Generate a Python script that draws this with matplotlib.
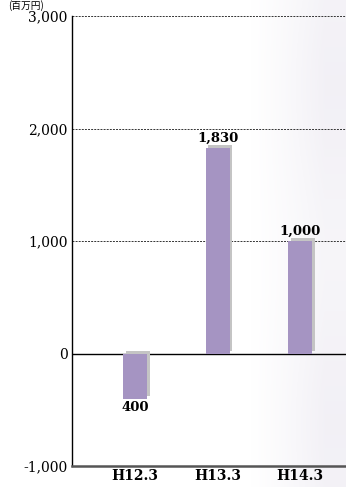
import numpy as np
import matplotlib
matplotlib.use("Agg")
import matplotlib.pyplot as plt
import matplotlib.patheffects as pe

# Data
periods = ["H12.3", "H13.3", "H14.3"]
values = [-400, 1830, 1000]
value_labels = ["400", "1,830", "1,000"]
yticks = [-1000, 0, 1000, 2000, 3000]
ytick_labels = ["-1,000", "0", "1,000", "2,000", "3,000"]
unit_label = "(百万円)"

W, H = 346, 487
fig = plt.figure(figsize=(W / 100, H / 100), dpi=100)
fig.patch.set_facecolor("white")

# faint lavender wash on the right-hand side
bg = fig.add_axes([0, 0, 1, 1], zorder=-10)
bg.set_axis_off()
xs = np.linspace(0, 1, 346)
ramp = np.clip((xs - 0.72) / 0.22, 0, 1) ** 1.2
ys = np.linspace(0, 1, 487)
rows = 0.85 + 0.15 * np.sin(ys * 9.0)[:, None]
alpha = ramp[None, :] * rows * 0.35
img = np.zeros((487, 346, 4))
img[..., 0] = 0.86
img[..., 1] = 0.84
img[..., 2] = 0.90
img[..., 3] = alpha
bg.imshow(img, extent=[0, 1, 0, 1], aspect="auto")
bg.set_xlim(0, 1)
bg.set_ylim(0, 1)

left, right = 72 / W, 1.0
bottom, top = 1 - 466 / H, 1 - 16 / H
ax = fig.add_axes([left, bottom, right - left, top - bottom])
ax.patch.set_alpha(0)

x = np.arange(len(periods))
bars = ax.bar(x, values, width=0.29, color="#a594c2", zorder=3)
for b in bars:
    b.set_path_effects([pe.SimplePatchShadow(offset=(2.0, 2.0),
                                             shadow_rgbFace="#c4c4c4",
                                             alpha=1.0),
                        pe.Normal()])

ax.set_xlim(-0.764, 2.557)
ax.set_ylim(-1000, 3000)

for yv in [1000, 2000, 3000]:
    ax.axhline(yv, color="#333333", lw=0.7, ls=(0, (2.0, 1.2)), zorder=1)
ax.axhline(0, color="black", lw=1.0, zorder=2)

ax.set_yticks(yticks)
ax.set_yticklabels(ytick_labels, fontfamily="DejaVu Serif", fontsize=10)
ax.set_xticks(x)
ax.set_xticklabels(periods, fontfamily="DejaVu Serif", fontsize=10,
                   fontweight="bold")
ax.tick_params(axis="both", length=0, pad=3)
ax.tick_params(axis="x", pad=2)

for s in ["top", "right"]:
    ax.spines[s].set_visible(False)
ax.spines["left"].set_color("black")
ax.spines["left"].set_linewidth(1.0)
ax.spines["bottom"].set_color("#555555")
ax.spines["bottom"].set_linewidth(1.8)

for xi, v, lab in zip(x, values, value_labels):
    if v >= 0:
        ax.text(xi, v + 25, lab, ha="center", va="bottom",
                fontfamily="DejaVu Serif", fontweight="bold", fontsize=9.5)
    else:
        ax.text(xi, v - 25, lab, ha="center", va="top",
                fontfamily="DejaVu Serif", fontweight="bold", fontsize=9.5)

fig.text(8 / W, 1 - 0.5 / H, unit_label, ha="left", va="top",
         fontfamily=["Noto Sans CJK JP", "DejaVu Sans"], fontsize=7)

fig.savefig("out.png", dpi=100)
